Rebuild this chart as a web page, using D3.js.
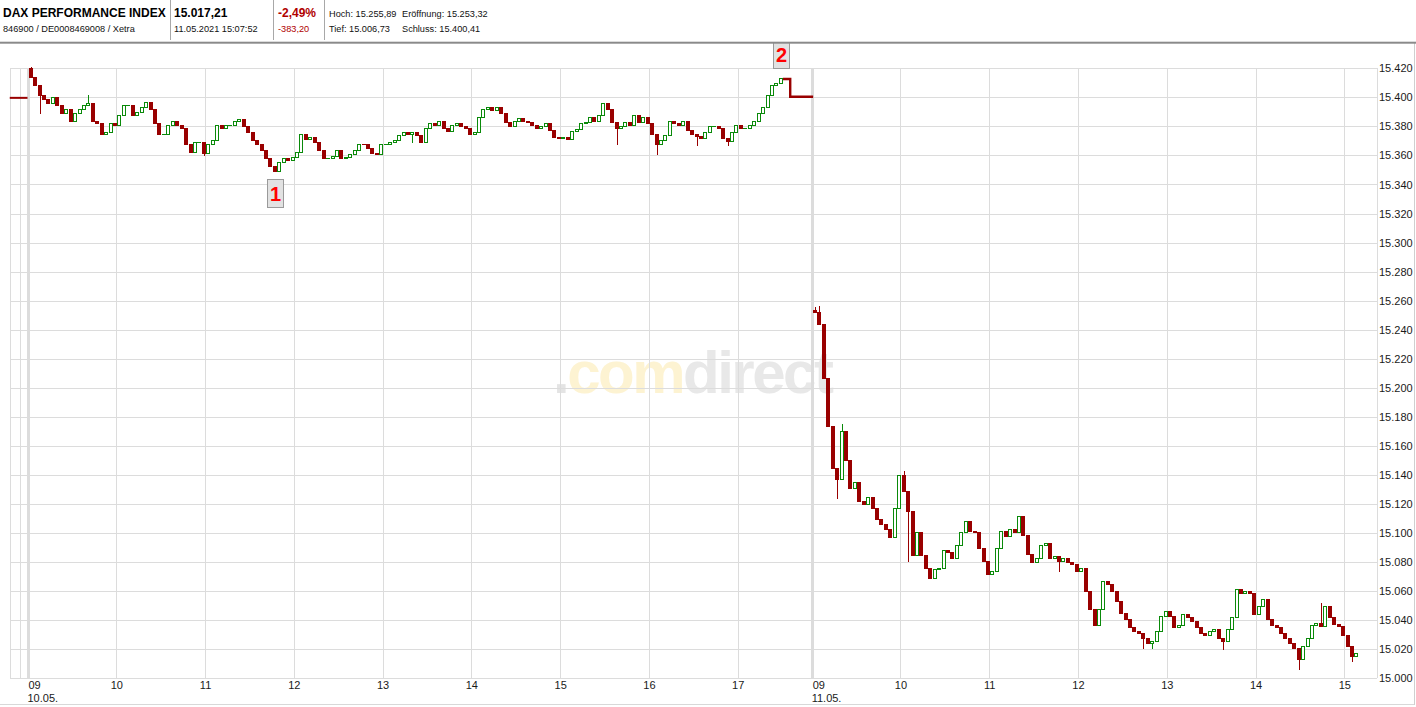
<!DOCTYPE html>
<html>
<head>
<meta charset="utf-8">
<script src="https://cdn.jsdelivr.net/npm/d3@7"></script>
<style>
  body { margin: 0; background: #fff; }
  svg { display: block; font-family: "Liberation Sans", Arial, sans-serif; }
</style>
</head>
<body>
<div id="chart"></div>
<script>
// 3-minute candles, open of each candle = close of the one before
const candleMinutes = 3
const dayStarts = [0, 530]          // minutes on the session axis where each day's 09:00 sits
const dayLabels = ['10.05.', '11.05.']

const day1Open = 15420
const day1Closes = [
  15414, 15408.5, 15401.6, 15399, 15396, 15400, 15395, 15389, 15392, 15384,
  15389, 15392, 15395, 15396, 15384, 15382, 15375, 15376, 15382, 15381,
  15388, 15395, 15395, 15388, 15390, 15393.5, 15397, 15392, 15382, 15375,
  15375, 15381, 15384, 15381, 15378.6, 15368, 15362.5, 15369, 15369, 15362,
  15368, 15370.5, 15381, 15378.6, 15381, 15381, 15384, 15385, 15380, 15376,
  15370.5, 15368, 15363.6, 15358, 15353, 15349, 15355.6, 15358, 15357, 15359,
  15362.5, 15374.5, 15371, 15373, 15369, 15363.6, 15358, 15358, 15359.5, 15364,
  15358, 15359, 15361, 15363.6, 15368, 15367.6, 15365, 15362, 15361, 15367.6,
  15368, 15369, 15370.5, 15374, 15376, 15374.5, 15376, 15374, 15369, 15378.6,
  15382, 15381, 15384, 15378.6, 15377, 15381, 15382, 15380.4, 15378.6, 15374.5,
  15376, 15386.6, 15392, 15393.5, 15391, 15393.5, 15389, 15383, 15380, 15384,
  15386, 15384, 15383, 15381, 15379, 15380, 15382, 15377.5, 15373, 15372,
  15372.6, 15371, 15377, 15378, 15382, 15383, 15386.6, 15384, 15388, 15396,
  15392, 15383, 15378.6, 15380, 15383, 15381, 15388, 15383, 15386.6, 15382,
  15375, 15368, 15370.5, 15374, 15384, 15382, 15381, 15384, 15377.5, 15375,
  15373.5, 15372, 15376, 15380, 15380.4, 15379, 15372, 15370, 15376, 15381,
  15378.6, 15378.6, 15381, 15384, 15389, 15393.5, 15401.6, 15408.5, 15409.6, 15413
]

const day2Open = 15253.32
const day2Closes = [
  15252, 15244, 15207, 15174, 15145, 15137, 15170, 15150, 15131, 15135,
  15122, 15120, 15125, 15117, 15110, 15106, 15102.5, 15097, 15117, 15140,
  15129, 15115, 15085, 15101, 15085, 15076, 15069, 15075, 15076, 15088,
  15087, 15083, 15092, 15101, 15108.5, 15101.6, 15100.5, 15090, 15081, 15071.7,
  15074, 15090, 15101.6, 15098, 15102.7, 15100.5, 15112, 15099, 15085.5, 15080,
  15083, 15092, 15093.5, 15083, 15084, 15081, 15083, 15080, 15079, 15074,
  15076, 15060, 15047.5, 15037, 15047.5, 15067, 15065, 15060, 15053, 15045,
  15040.6, 15035, 15032.6, 15031, 15028, 15024.5, 15025.7, 15032.6, 15043, 15046.4,
  15043, 15035, 15037, 15044.6, 15042, 15039.5, 15035, 15031.5, 15030, 15032.6,
  15033.7, 15028, 15025.7, 15033.7, 15042, 15061.4, 15059, 15060, 15059, 15044,
  15050, 15054.5, 15040.6, 15036.7, 15035, 15031.5, 15028, 15024.5, 15021, 15013,
  15022, 15028, 15037, 15038.4, 15036, 15050, 15042, 15037.7, 15036, 15030,
  15022, 15015.4, 15017.21
]

// wicks that reach beyond the body: [candle index, low, high]
const day1Wicks = [
  [0, null, 15421], [2, 15389, null], [13, null, 15401.6], [39, 15360, null],
  [86, 15369, null], [132, 15368, null], [141, 15361, null], [150, 15367, null],
  [157, 15367, null]
]
const day2Wicks = [
  [0, null, 15255.89], [1, null, 15256], [5, 15124, null], [6, null, 15175],
  [20, null, 15143], [21, 15081, null], [55, 15074, null], [74, 15021, null],
  [76, 15021, null], [92, 15020, null], [109, 15006.73, null], [114, null, 15052],
  [121, 15012, null]
]

// previous close before the open, and closing auction after 17:30
const prevCloseTimes = [-12, 0]
const prevCloseValues = [15399.65, 15399.65]
const auctionTimes = [510.5, 515.5, 515.5, 531]
const auctionValues = [15412.6, 15412.6, 15400.41, 15400.41]

const yTicks = [15000, 15020, 15040, 15060, 15080, 15100, 15120, 15140, 15160, 15180, 15200,
  15220, 15240, 15260, 15280, 15300, 15320, 15340, 15360, 15380, 15400, 15420]
const day1Hours = [9, 10, 11, 12, 13, 14, 15, 16, 17]
const day2Hours = [9, 10, 11, 12, 13, 14, 15]

const markers = [
  { label: '1', day: 0, index: 55, side: 'below' },
  { label: '2', day: 0, index: 169, side: 'above' }
]

const quoteName = 'DAX PERFORMANCE INDEX'
const quoteIds = '846900 / DE0008469008 / Xetra'
const quoteLast = '15.017,21'
const quoteTime = '11.05.2021 15:07:52'
const quoteChangePct = '-2,49%'
const quoteChange = '-383,20'
const quoteStats = [['Hoch: 15.255,89', 'Eröffnung: 15.253,32'], ['Tief: 15.006,73', 'Schluss: 15.400,41']]

const chartWidth = 1416
const chartHeight = 707
const gridLeft = 10
const gridRight = 1377
const gridTop = 68.3
const gridBottom = 678.3

const x = d3.scaleLinear().domain([0, 890]).range([27.5, 1344.3])
const y = d3.scaleLinear().domain([15000, 15420]).range([gridBottom, gridTop])

const de = d3.formatLocale({ decimal: ',', thousands: '.', grouping: [3], currency: ['', ' €'] })
const fmt = de.format(',.0f')

// build candles
let candles = []
const buildDay = (dayIdx, open, closes, wicks) => {
  let prev = open
  closes.forEach((c, i) => {
    let o = prev
    let w = wicks.find(d => d[0] === i)
    let hi = Math.max(o, c)
    let lo = Math.min(o, c)
    if (w) {
      if (w[1] !== null) lo = Math.min(lo, w[1])
      if (w[2] !== null) hi = Math.max(hi, w[2])
    }
    candles.push({ day: dayIdx, i: i, t: dayStarts[dayIdx] + i * candleMinutes + candleMinutes / 2, open: o, close: c, high: hi, low: lo })
    prev = c
  })
}
buildDay(0, day1Open, day1Closes, day1Wicks)
buildDay(1, day2Open, day2Closes, day2Wicks)

// pixel geometry of one candle
candles.forEach(d => {
  d.px = Math.round(x(d.t))
  d.top = Math.round(y(Math.max(d.open, d.close)))
  d.bot = Math.round(y(Math.min(d.open, d.close)))
  d.up = d.close >= d.open
  d.hollow = d.up && d.bot - d.top >= 2
})

const svg = d3.select('#chart')
  .append('svg')
  .attr('width', chartWidth)
  .attr('height', chartHeight)

// watermark
const wm = svg.append('text')
  .attr('x', 553)
  .attr('y', 393)
  .attr('font-size', 60)
  .attr('font-weight', 'bold')
  .attr('letter-spacing', -2.5)
wm.append('tspan').attr('fill', '#e4e4e4').text('.')
wm.append('tspan').attr('fill', '#fdf3d2').text('com')
wm.append('tspan').attr('fill', '#e8e8e8').text('direct')

// grid
const grid = svg.append('g').attr('shape-rendering', 'crispEdges')
grid.selectAll('line.h')
  .data(yTicks)
  .enter()
  .append('line')
  .attr('x1', gridLeft)
  .attr('x2', gridRight)
  .attr('y1', d => Math.round(y(d)) + 0.5)
  .attr('y2', d => Math.round(y(d)) + 0.5)
  .attr('stroke', '#dcdcdc')

let hourTicks = []
day1Hours.forEach(h => hourTicks.push({ t: dayStarts[0] + (h - 9) * 60, h: h, first: h === 9, day: 0 }))
day2Hours.forEach(h => hourTicks.push({ t: dayStarts[1] + (h - 9) * 60, h: h, first: h === 9, day: 1 }))

grid.selectAll('line.v')
  .data(hourTicks.filter(d => !d.first).map(d => d.t).concat([-5]))
  .enter()
  .append('line')
  .attr('x1', d => Math.round(x(d)) + 0.5)
  .attr('x2', d => Math.round(x(d)) + 0.5)
  .attr('y1', gridTop)
  .attr('y2', gridBottom)
  .attr('stroke', '#dcdcdc')

grid.selectAll('rect.day')
  .data(hourTicks.filter(d => d.first))
  .enter()
  .append('rect')
  .attr('x', d => Math.round(x(d.t)) - 1.5)
  .attr('width', 3)
  .attr('y', gridTop)
  .attr('height', gridBottom - gridTop)
  .attr('fill', '#dcdcdc')

grid.append('line')
  .attr('x1', gridLeft + 0.5).attr('x2', gridLeft + 0.5)
  .attr('y1', gridTop).attr('y2', gridBottom)
  .attr('stroke', '#dcdcdc')
grid.append('line')
  .attr('x1', gridRight + 0.5).attr('x2', gridRight + 0.5)
  .attr('y1', gridTop).attr('y2', gridBottom)
  .attr('stroke', '#dcdcdc')

// reference lines
const refLine = d3.line().x(d => x(d[0])).y(d => y(d[1]))
svg.append('path')
  .attr('d', refLine(prevCloseTimes.map((t, i) => [t, prevCloseValues[i]])))
  .attr('fill', 'none').attr('stroke', '#990000').attr('stroke-width', 2)
svg.append('path')
  .attr('d', refLine(auctionTimes.map((t, i) => [t, auctionValues[i]])))
  .attr('fill', 'none').attr('stroke', '#990000').attr('stroke-width', 2.4)

// candles
const green = '#0a8a0a'
const red = '#990000'
const cg = svg.append('g').attr('shape-rendering', 'crispEdges')
const c = cg.selectAll('g.candle')
  .data(candles)
  .enter()
  .append('g')

c.append('line')
  .attr('x1', d => d.px + 1)
  .attr('x2', d => d.px + 1)
  .attr('y1', d => Math.round(y(d.high)))
  .attr('y2', d => Math.round(y(d.low)) + 1)
  .attr('stroke', d => d.up ? green : red)

c.append('rect')
  .attr('x', d => d.hollow ? d.px - 1 + 0.5 : d.px - 1)
  .attr('width', d => d.hollow ? 3 : 4)
  .attr('y', d => d.hollow ? d.top + 0.5 : d.top)
  .attr('height', d => d.hollow ? d.bot - d.top : Math.max(1, d.bot - d.top + 1))
  .attr('fill', d => d.hollow ? '#fff' : (d.up ? green : red))
  .attr('stroke', d => d.hollow ? green : 'none')

// markers
const mk = svg.selectAll('g.marker')
  .data(markers)
  .enter()
  .append('g')
  .attr('transform', d => {
    let cd = candles.find(k => k.day === d.day && k.i === d.index)
    let top = d.side === 'below' ? Math.round(y(cd.low)) + 8 : Math.round(y(cd.high)) - 38
    return `translate(${cd.px - 7},${top})`
  })
mk.append('rect')
  .attr('x', 0.5).attr('y', 0.5)
  .attr('width', 16).attr('height', 28)
  .attr('fill', '#e2e2e2').attr('stroke', '#9a9a9a')
mk.append('text')
  .attr('x', 8.5).attr('y', 22)
  .attr('text-anchor', 'middle')
  .attr('font-size', 20)
  .attr('font-weight', 'bold')
  .attr('fill', '#ff0000')
  .text(d => d.label)

// y axis
const yAxis = svg.append('g')
  .attr('transform', `translate(${gridRight},0)`)
  .call(d3.axisRight(y).tickValues(yTicks).tickFormat(fmt).tickSize(0).tickPadding(2))
yAxis.select('.domain').remove()
yAxis.selectAll('text')
  .attr('font-size', 11)
  .attr('font-family', '"Liberation Sans", Arial, sans-serif')
  .attr('fill', '#1a1a1a')

// x axis
const xAxis = svg.append('g')
  .attr('transform', `translate(0,${gridBottom})`)
  .call(d3.axisBottom(x).tickValues(hourTicks.map(d => d.t)).tickSize(0).tickPadding(3)
    .tickFormat(t => {
      let tk = hourTicks.find(d => d.t === t)
      return tk.h < 10 ? '0' + tk.h : String(tk.h)
    }))
xAxis.select('.domain').remove()
xAxis.selectAll('text')
  .attr('font-size', 11)
  .attr('font-family', '"Liberation Sans", Arial, sans-serif')
  .attr('fill', '#1a1a1a')
  .attr('text-anchor', (t) => hourTicks.find(d => d.t === t).first ? 'start' : 'middle')
  .attr('x', (t) => hourTicks.find(d => d.t === t).first ? 0.5 : 0)

svg.selectAll('text.date')
  .data(dayLabels)
  .enter()
  .append('text')
  .attr('x', (d, i) => x(dayStarts[i]))
  .attr('y', 702)
  .attr('font-size', 11)
  .attr('fill', '#1a1a1a')
  .text(d => d)

// frame
svg.append('line')
  .attr('x1', 0).attr('x2', 1415).attr('y1', 704.5).attr('y2', 704.5)
  .attr('stroke', '#d8d8d8')
svg.append('line')
  .attr('x1', 1414.5).attr('x2', 1414.5).attr('y1', 43).attr('y2', 705)
  .attr('stroke', '#cfcfcf')

// header
const hd = svg.append('g')
hd.append('rect').attr('x', 0).attr('y', 0).attr('width', chartWidth).attr('height', 42).attr('fill', '#fff')
hd.append('rect').attr('x', 0).attr('y', 41.7).attr('width', chartWidth).attr('height', 2).attr('fill', '#8a8a8a')
hd.selectAll('line.sep')
  .data([170.5, 273.5, 324.5])
  .enter()
  .append('line')
  .attr('x1', d => d).attr('x2', d => d)
  .attr('y1', 0).attr('y2', 40)
  .attr('stroke', '#a8a8a8')
  .attr('shape-rendering', 'crispEdges')

hd.append('text').attr('x', 3).attr('y', 17).attr('font-size', 12).attr('font-weight', 'bold').attr('fill', '#000').text(quoteName)
hd.append('text').attr('x', 3).attr('y', 31.5).attr('font-size', 9.2).attr('fill', '#111').text(quoteIds)
hd.append('text').attr('x', 174).attr('y', 17).attr('font-size', 12).attr('font-weight', 'bold').attr('fill', '#000').text(quoteLast)
hd.append('text').attr('x', 174).attr('y', 31.5).attr('font-size', 9.2).attr('fill', '#111').text(quoteTime)
hd.append('text').attr('x', 278).attr('y', 17).attr('font-size', 12).attr('font-weight', 'bold').attr('fill', '#b00000').text(quoteChangePct)
hd.append('text').attr('x', 278).attr('y', 31.5).attr('font-size', 9.2).attr('fill', '#b00000').text(quoteChange)
quoteStats.forEach((row, r) => {
  row.forEach((s, k) => {
    hd.append('text')
      .attr('x', k === 0 ? 329 : 402)
      .attr('y', r === 0 ? 16.7 : 31.5)
      .attr('font-size', 9.2)
      .attr('fill', '#111')
      .text(s)
  })
})
</script>
</body>
</html>
